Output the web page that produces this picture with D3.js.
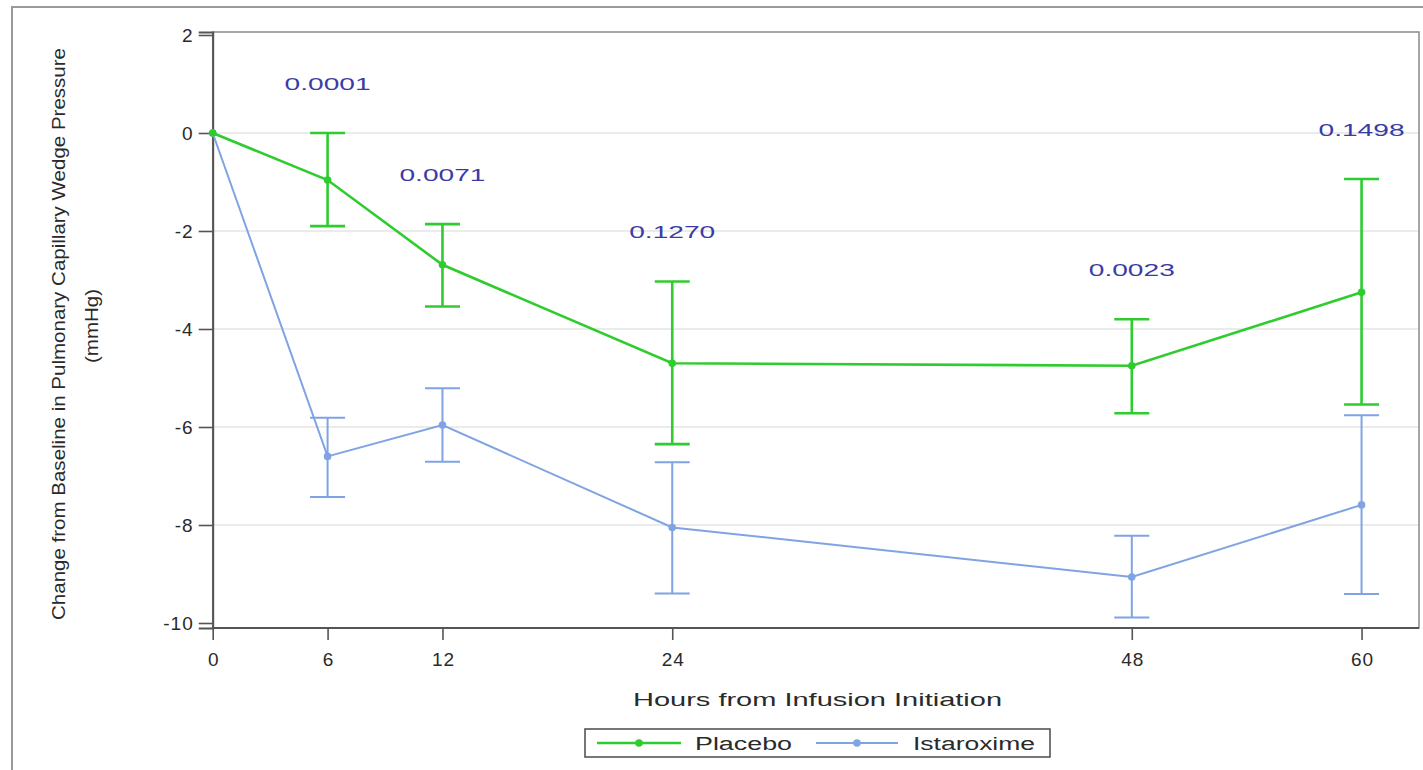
<!DOCTYPE html>
<html>
<head>
<meta charset="utf-8">
<script src="https://cdn.jsdelivr.net/npm/d3@7"></script>
<style>
  html, body { margin: 0; padding: 0; background: #fff; }
  svg { display: block; }
  text { font-family: "Liberation Sans", Arial, Helvetica, sans-serif; }
</style>
</head>
<body>
<svg id="chart" width="1423" height="770"></svg>
<script>
// ---------- data ----------
const hours = [0, 6, 12, 24, 48, 60];
const xTickLabels = ["0", "6", "12", "24", "48", "60"];
const yTickValues = [-10, -8, -6, -4, -2, 0, 2];
const yTickLabels = ["-10", "-8", "-6", "-4", "-2", "0", "2"];

const placeboMean  = [0, -0.96, -2.69, -4.70, -4.75, -3.25];
const placeboUpper = [0,  0.00, -1.86, -3.03, -3.80, -0.94];
const placeboLower = [0, -1.90, -3.54, -6.35, -5.72, -5.54];

const istaMean  = [0, -6.60, -5.96, -8.05, -9.06, -7.59];
const istaUpper = [0, -5.81, -5.21, -6.72, -8.22, -5.76];
const istaLower = [0, -7.43, -6.71, -9.40, -9.89, -9.41];

const pHours  = [6, 12, 24, 48, 60];
const pValues = ["0.0001", "0.0071", "0.1270", "0.0023", "0.1498"];

const seriesNames = ["Placebo", "Istaroxime"];
const xTitle = "Hours from Infusion Initiation";
const yTitle1 = "Change from Baseline in Pulmonary Capillary Wedge Pressure";
const yTitle2 = "(mmHg)";

// ---------- setup ----------
const W = 1423, H = 770;
const svg = d3.select("#chart");
const green = "#2fcc2f", blue = "#7fa3e3", pColor = "#3b3ba6", textColor = "#2a2a2a";

svg.append("rect").attr("x", 0).attr("y", 0).attr("width", W).attr("height", H).attr("fill", "#fff");
// outer frame (extends past right/bottom edges)
svg.append("rect").attr("x", 12).attr("y", 7).attr("width", 1440).attr("height", 800)
  .attr("fill", "none").attr("stroke", "#9a9a9a").attr("stroke-width", 2);

const plot = { left: 212.7, right: 1419, top: 32, bottom: 628 };
const x = d3.scaleLinear().domain([0, 63]).range([plot.left, plot.right]);
const y = d3.scaleLinear().domain([-10.102, 2.061]).range([plot.bottom, plot.top]);

// gridlines
svg.append("g").selectAll("line").data(yTickValues.filter(v => v > -10 && v < 2)).join("line")
  .attr("x1", plot.left).attr("x2", plot.right)
  .attr("y1", d => y(d)).attr("y2", d => y(d))
  .attr("stroke", "#e4e4e4").attr("stroke-width", 1.5);

// plot frame
svg.append("rect").attr("x", plot.left).attr("y", plot.top)
  .attr("width", plot.right - plot.left).attr("height", plot.bottom - plot.top)
  .attr("fill", "none").attr("stroke", "#8a8a8a").attr("stroke-width", 1.5);

// axes
const yAxis = d3.axisLeft(y).tickValues(yTickValues)
  .tickFormat((d, i) => yTickLabels[i]).tickSize(14).tickPadding(6);
const gy = svg.append("g").attr("transform", `translate(${plot.left},0)`).call(yAxis);
const xAxis = d3.axisBottom(x).tickValues(hours)
  .tickFormat((d, i) => xTickLabels[i]).tickSize(12).tickPadding(13);
const gx = svg.append("g").attr("transform", `translate(0,${plot.bottom})`).call(xAxis);
[gx, gy].forEach(g => {
  g.attr("font-size", 19).attr("font-family", "'Liberation Sans', Arial, sans-serif");
  g.select(".domain").attr("stroke", "#555").attr("stroke-width", 2);
  g.selectAll(".tick line").attr("stroke", "#555").attr("stroke-width", 1.6);
  g.selectAll(".tick text").attr("fill", textColor).attr("font-size", 19)
    .attr("letter-spacing", 1);
});
gx.select(".domain").attr("d", `M${plot.left},0H${plot.right}`);
gy.selectAll(".tick text").attr("dx", 1);
gx.selectAll(".tick text").attr("dx", 0.5);

// series
const series = [
  { name: seriesNames[1], color: blue, width: 2, mean: istaMean, up: istaUpper, lo: istaLower },
  { name: seriesNames[0], color: green, width: 2.6, mean: placeboMean, up: placeboUpper, lo: placeboLower }
];
const capW = 17.5;
const line = d3.line().x(d => x(d.h)).y(d => y(d.m));
series.forEach(s => {
  const pts = hours.map((h, i) => ({ h, m: s.mean[i], u: s.up[i], l: s.lo[i] }));
  const g = svg.append("g");
  const eb = pts.filter(p => p.u !== p.l);
  g.selectAll("line.v").data(eb).join("line").attr("class", "v")
    .attr("x1", d => x(d.h)).attr("x2", d => x(d.h))
    .attr("y1", d => y(d.u)).attr("y2", d => y(d.l))
    .attr("stroke", s.color).attr("stroke-width", s.width);
  g.selectAll("line.cu").data(eb).join("line").attr("class", "cu")
    .attr("x1", d => x(d.h) - capW).attr("x2", d => x(d.h) + capW)
    .attr("y1", d => y(d.u)).attr("y2", d => y(d.u))
    .attr("stroke", s.color).attr("stroke-width", s.width);
  g.selectAll("line.cl").data(eb).join("line").attr("class", "cl")
    .attr("x1", d => x(d.h) - capW).attr("x2", d => x(d.h) + capW)
    .attr("y1", d => y(d.l)).attr("y2", d => y(d.l))
    .attr("stroke", s.color).attr("stroke-width", s.width);
  g.append("path").datum(pts).attr("d", line)
    .attr("fill", "none").attr("stroke", s.color).attr("stroke-width", s.width);
  g.selectAll("circle").data(pts).join("circle")
    .attr("cx", d => x(d.h)).attr("cy", d => y(d.m)).attr("r", 3.8).attr("fill", s.color);
});

// p-values: placed 1 unit above the placebo upper bar
svg.append("g").selectAll("text").data(pHours).join("text")
  .attr("x", d => x(d))
  .attr("y", (d, i) => y(placeboUpper[hours.indexOf(d)] + 1.0) + 6)
  .attr("text-anchor", "middle").attr("fill", pColor).attr("font-size", 17)
  .attr("textLength", 86).attr("lengthAdjust", "spacingAndGlyphs")
  .text((d, i) => pValues[i]);

// axis titles
svg.append("text").attr("x", 817.5).attr("y", 706).attr("text-anchor", "middle")
  .attr("fill", textColor).attr("font-size", 18.5)
  .attr("textLength", 369).attr("lengthAdjust", "spacingAndGlyphs").text(xTitle);

svg.append("text").attr("transform", "translate(65,334) rotate(-90)").attr("text-anchor", "middle")
  .attr("fill", textColor).attr("font-size", 18)
  .attr("textLength", 572).attr("lengthAdjust", "spacingAndGlyphs").text(yTitle1);
svg.append("text").attr("transform", "translate(98,326) rotate(-90)").attr("text-anchor", "middle")
  .attr("fill", textColor).attr("font-size", 18)
  .attr("textLength", 74).attr("lengthAdjust", "spacingAndGlyphs").text(yTitle2);

// legend
const lg = svg.append("g");
lg.append("rect").attr("x", 585).attr("y", 729).attr("width", 465).attr("height", 28)
  .attr("fill", "#fff").attr("stroke", "#555").attr("stroke-width", 1.6);
const legItems = [
  { name: seriesNames[0], color: green, width: 2.6, x1: 597, x2: 681, tx: 695, tl: 97 },
  { name: seriesNames[1], color: blue, width: 2, x1: 816, x2: 898, tx: 913, tl: 122 }
];
legItems.forEach(it => {
  lg.append("line").attr("x1", it.x1).attr("x2", it.x2).attr("y1", 743).attr("y2", 743)
    .attr("stroke", it.color).attr("stroke-width", it.width);
  lg.append("circle").attr("cx", (it.x1 + it.x2) / 2).attr("cy", 743).attr("r", 3.8).attr("fill", it.color);
  lg.append("text").attr("x", it.tx).attr("y", 749.5).attr("fill", textColor).attr("font-size", 18)
    .attr("textLength", it.tl).attr("lengthAdjust", "spacingAndGlyphs").text(it.name);
});
</script>
</body>
</html>
